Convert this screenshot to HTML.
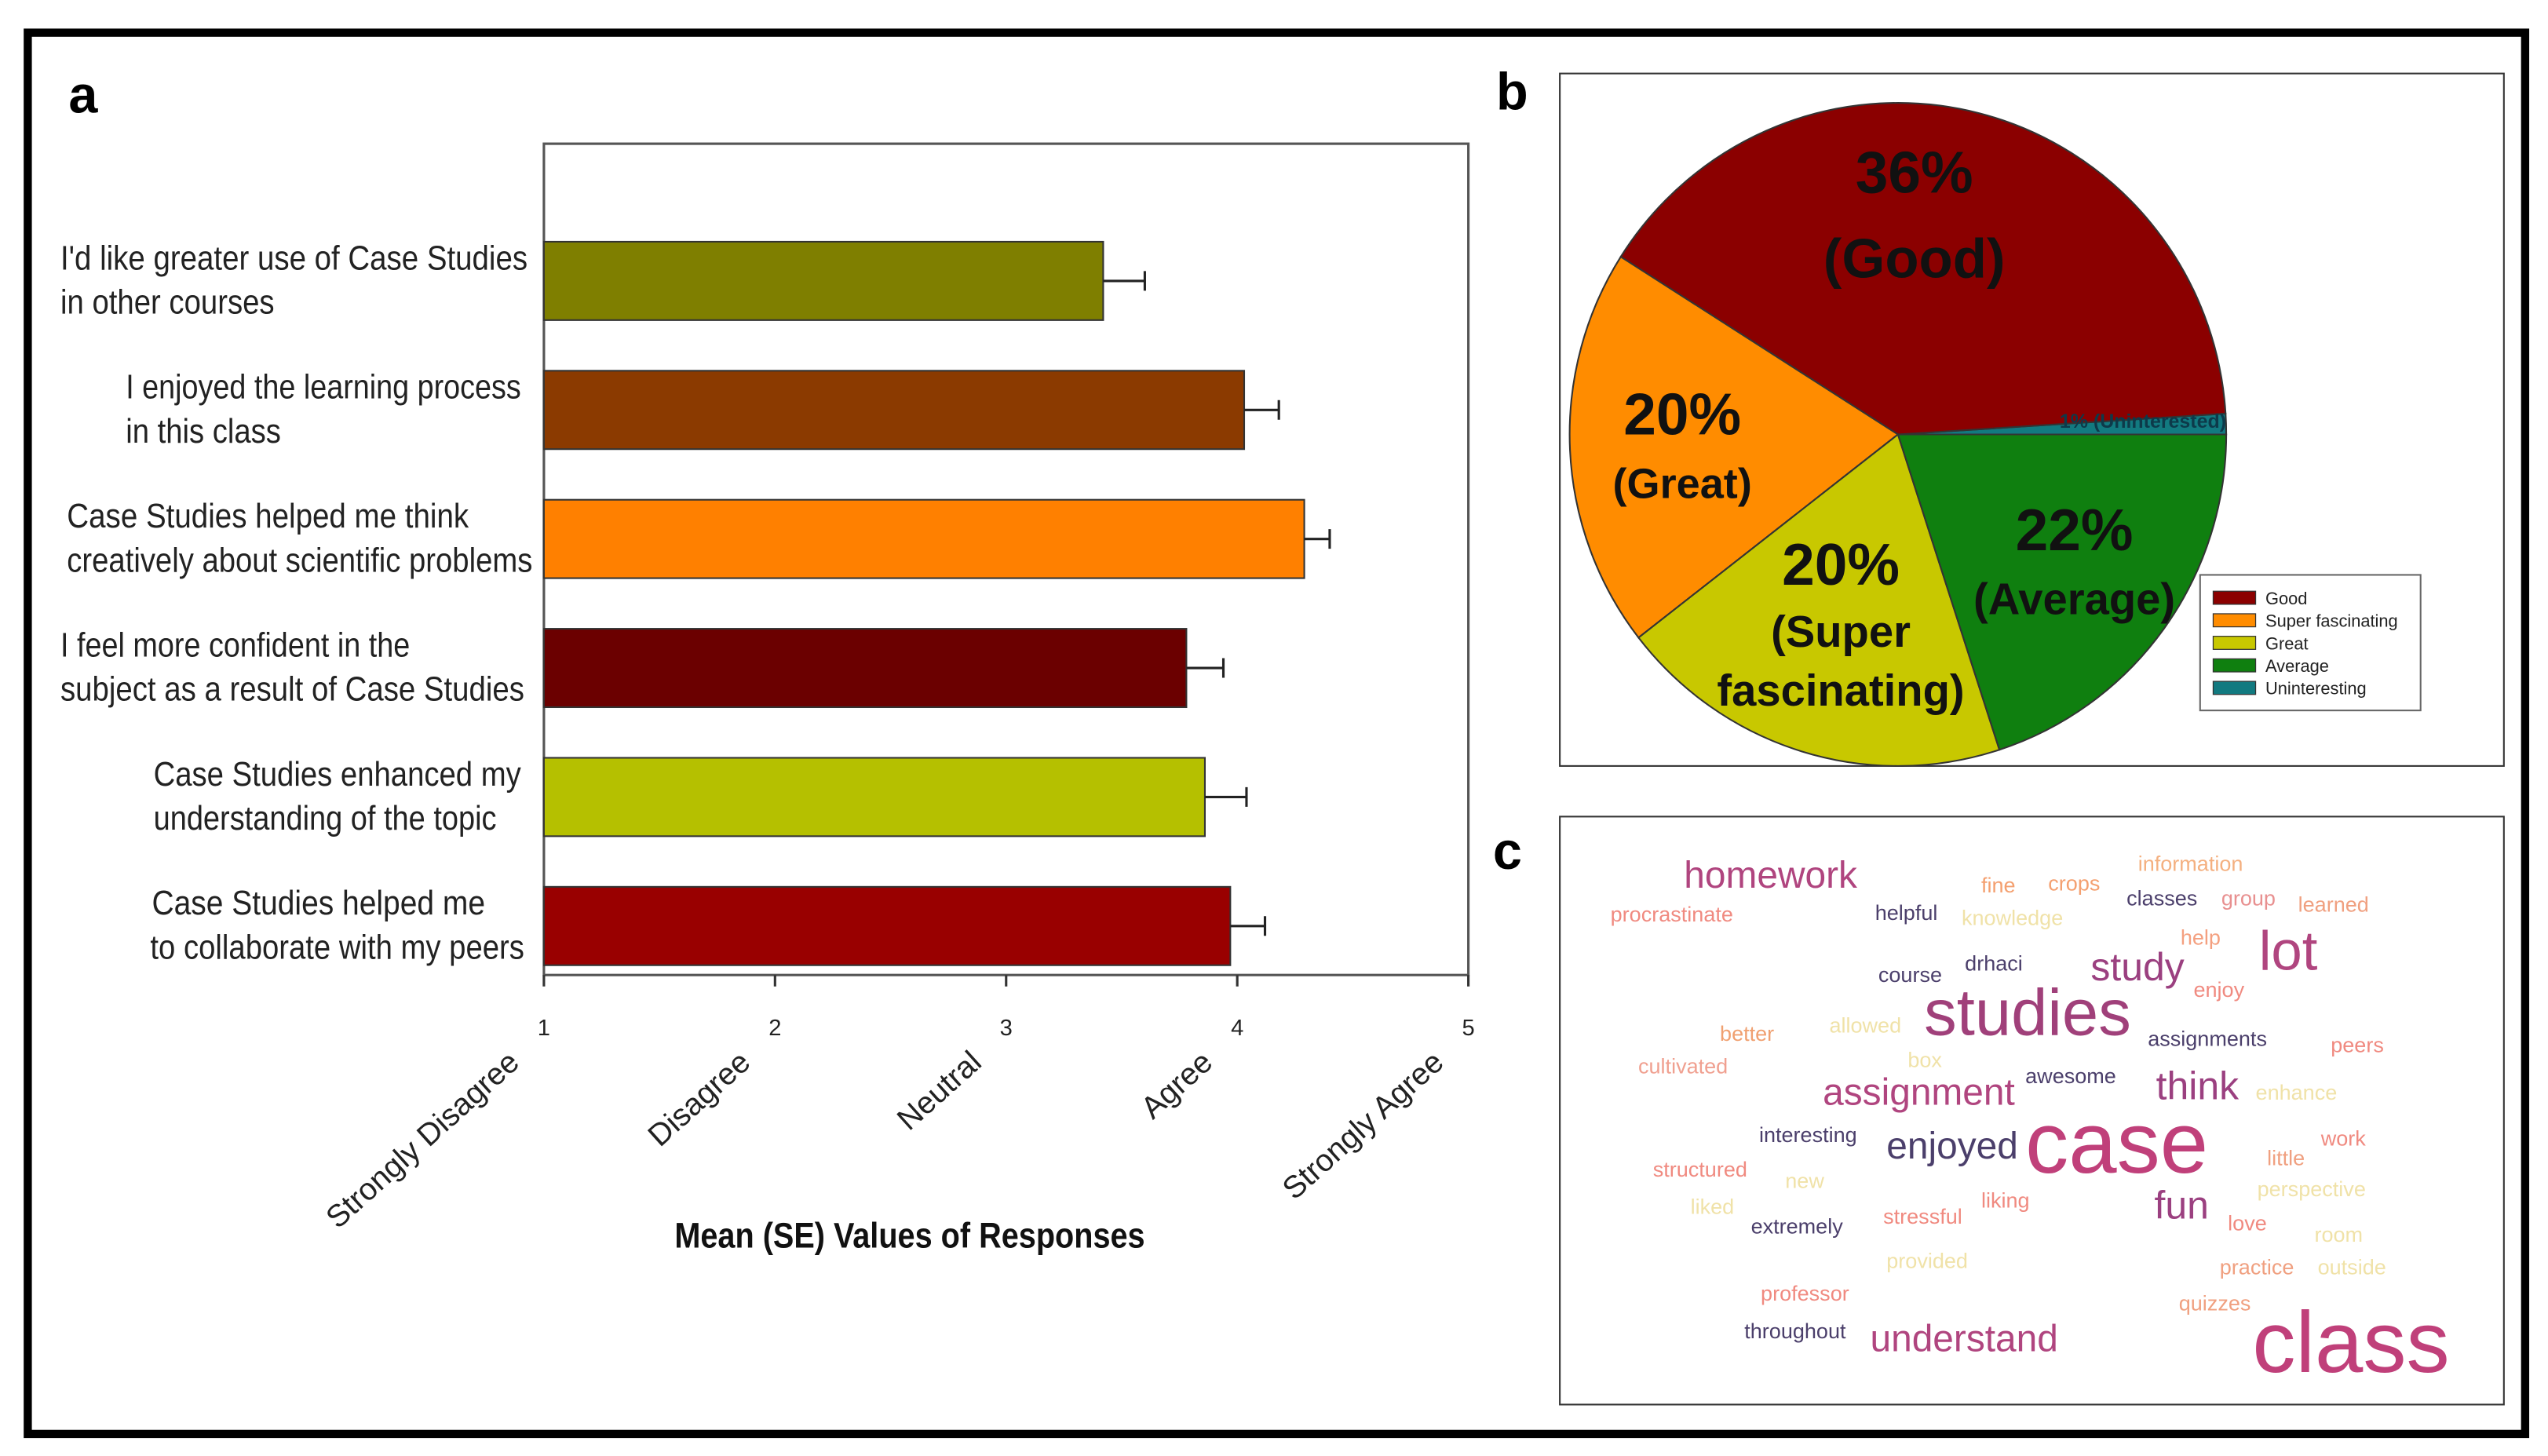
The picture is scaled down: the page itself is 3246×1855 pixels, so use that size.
<!DOCTYPE html>
<html><head><meta charset="utf-8"><style>
html,body{margin:0;padding:0;background:#fff;}
svg{display:block;font-family:"Liberation Sans",sans-serif;}
</style></head><body>
<svg id="fig" width="3246" height="1855" viewBox="0 0 1560 891.5" xmlns="http://www.w3.org/2000/svg">
<rect x="17" y="20" width="1529" height="858" fill="#fff" stroke="#000" stroke-width="5"/>
<text x="42" y="69" font-size="32" font-weight="bold">a</text>
<text x="916" y="67" font-size="32" font-weight="bold">b</text>
<text x="914" y="532" font-size="32" font-weight="bold">c</text>
<g id="chartA"></g>
<rect x="955" y="45" width="578" height="424" fill="#fff" stroke="#333" stroke-width="1"/>
<g id="chartB"></g>
<rect x="955" y="500" width="578" height="360" fill="#fff" stroke="#333" stroke-width="1"/>
<g id="chartC"></g>
</svg>
<script>
const NS="http://www.w3.org/2000/svg";
// ---- Panel a data ----
const barCategories=[["I'd like greater use of Case Studies","in other courses"],["I enjoyed the learning process","in this class"],["Case Studies helped me think","creatively about scientific problems"],["I feel more confident in the","subject as a result of Case Studies"],["Case Studies enhanced my","understanding of the topic"],["Case Studies helped me","to collaborate with my peers"]];
const barMeans=[3.42,4.03,4.29,3.78,3.86,3.97];
const barSE=[0.18,0.15,0.11,0.16,0.18,0.15];
const barColors=["#7f7f00","#8b3a00","#ff8000","#6b0000","#b5c000","#990000"];
const xTicks=[1,2,3,4,5];
const xTickNames=["Strongly Disagree","Disagree","Neutral","Agree","Strongly Agree"];
// ---- Panel b data ----
const pieNames=["Uninteresting","Good","Great","Super fascinating","Average"];
const pieShares=[1,40,19.5,19.5,20];
const pieColors=["#127a80","#8b0000","#ff8c00","#c8c800","#0f7f0f"];
const legendNames=["Good","Super fascinating","Great","Average","Uninteresting"];
const legendColors=["#8b0000","#ff8c00","#c8c800","#0f7f0f","#127a80"];
// ---- Panel c data ----
const cloudWords=["homework","procrastinate","helpful","fine","crops","knowledge","information","classes","group","learned","help","lot","course","drhaci","study","enjoy","studies","better","allowed","assignments","peers","box","cultivated","awesome","assignment","think","enhance","interesting","enjoyed","case","work","little","structured","new","liking","perspective","liked","extremely","stressful","fun","love","room","provided","practice","outside","professor","quizzes","throughout","understand","class"];
const cloudSizes=[23,13,13,13,13,13,13,13,13,13,13,34,13,13,24,13,40,13,13,13,13,13,13,13,23,24,13,13,23,53,13,13,13,13,13,13,13,13,13,24,13,13,13,13,13,13,13,13,23,53];

function el(tag,attrs,parent,txt){const e=document.createElementNS(NS,tag);for(const k in attrs)e.setAttribute(k,attrs[k]);if(txt!==undefined)e.textContent=txt;parent.appendChild(e);return e;}

// ---- Bar chart ----
(function(){
const g=document.getElementById('chartA');
const x0=333,x1=899,yTop=88,yBot=597;
const xs=v=>x0+(v-1)*(x1-x0)/4;
const yc=i=>172+i*79;
const bh=48;
const frame=el('rect',{x:x0,y:yTop,width:x1-x0,height:yBot-yTop,fill:'#fff',stroke:'#555','stroke-width':1.5},g);


const labelBox=[[37,323,37,168],[77,319,77,172],[41,287,41,326],[37,251,37,321],[94,319,94,304],[93,297,92,321]];
barCategories.forEach((c,i)=>{
  const b=el('rect',{x:xs(1),y:yc(i)-bh/2,width:xs(barMeans[i])-xs(1),height:bh,fill:barColors[i],stroke:'#333','stroke-width':1},g);
  
  
  const xe=xs(barMeans[i]),xe2=xs(barMeans[i]+barSE[i]);
  const eb=el('path',{d:`M${xe},${yc(i)}H${xe2}M${xe2},${yc(i)-6}V${yc(i)+6}`,stroke:'#222','stroke-width':1.5,fill:'none'},g);
  
  
  const lb=labelBox[i];
  const t1=el('text',{x:lb[0],y:yc(i)-14+7,'font-size':21,textLength:lb[1]-lb[0],lengthAdjust:'spacingAndGlyphs',fill:'#222'},g,c[0]);
  
  
  const t2=el('text',{x:lb[2],y:yc(i)+13+7,'font-size':21,textLength:lb[3]-lb[2],lengthAdjust:'spacingAndGlyphs',fill:'#222'},g,c[1]);
  
  
});
xTicks.forEach((v,i)=>{
  const tk=el('line',{x1:xs(v),x2:xs(v),y1:yBot,y2:yBot+7,stroke:'#333','stroke-width':1.5},g);
  
  
  const tn=el('text',{x:xs(v),y:634,'font-size':14,'text-anchor':'middle',fill:'#222'},g,String(v));
  
  
  const tl=el('text',{x:xs(v)-14,y:652,'font-size':19,'text-anchor':'end',fill:'#222',transform:`rotate(-42 ${xs(v)-14} 652)`},g,xTickNames[i]);
  
  
});
const at=el('text',{x:557,y:764,'font-size':22,'font-weight':'bold','text-anchor':'middle',textLength:288,lengthAdjust:'spacingAndGlyphs',fill:'#111'},g,'Mean (SE) Values of Responses');


})();

// ---- Pie chart ----
(function(){
const g=document.getElementById('chartB');
const cx=1162,cy=266,rx=201,ry=203;
const total=pieShares.reduce((a,b)=>a+b,0);
let a0=0;
pieShares.forEach((v,i)=>{
  const a1=a0+v/total*2*Math.PI;
  const p0=[cx+rx*Math.cos(a0),cy-ry*Math.sin(a0)],p1=[cx+rx*Math.cos(a1),cy-ry*Math.sin(a1)];
  const large=(a1-a0)>Math.PI?1:0;
  const s=el('path',{d:`M${cx},${cy}L${p0[0]},${p0[1]}A${rx},${ry} 0 ${large} 0 ${p1[0]},${p1[1]}Z`,fill:pieColors[i],stroke:'#333','stroke-width':1},g);
  
  
  a0=a1;
});
const labels=[["36%",1172,118,36],["(Good)",1172,170,34],["20%",1030,266,36],["(Great)",1030,305,26],["20%",1127,358,36],["(Super",1127,396,27],["fascinating)",1127,432,27],["22%",1270,337,36],["(Average)",1270,376,27]];
labels.forEach(l=>{
  const t=el('text',{x:l[1],y:l[2],'font-size':l[3],'font-weight':'bold','text-anchor':'middle',fill:'#111'},g,l[0]);
  
  
});
const tu=el('text',{x:1312,y:262,'font-size':12,'font-weight':'bold','text-anchor':'middle',fill:'#0d3a4a'},g,'1% (Uninterested)');


const lg=el('g',{},g);


el('rect',{x:1347,y:352,width:135,height:83,fill:'#fff',stroke:'#666','stroke-width':1},lg);
legendNames.forEach((n,i)=>{
  const y=366+i*13.8;
  const sw=el('rect',{x:1355,y:y-4,width:26,height:8,fill:legendColors[i],stroke:'#333','stroke-width':0.6},lg);
  
  
  const t=el('text',{x:1387,y:y+4,'font-size':10.5,fill:'#222'},lg,n);
  
  
});
})();

// ---- Word cloud ----
const cloudPos=[[1031,536],[986,560],[1148,559],[1213,542],[1254,541],[1201,562],[1309,529],[1302,550],[1360,550],[1407,554],[1335,574],[1383,582],[1150,597],[1203,590],[1280,592],[1343,606],[1178,620],[1053,633],[1120,628],[1315,636],[1427,640],[1168,649],[1003,653],[1240,659],[1116,669],[1320,665],[1381,669],[1077,695],[1155,702],[1240,700],[1421,697],[1388,709],[1012,716],[1093,723],[1213,735],[1382,728],[1035,739],[1072,751],[1153,745],[1319,738],[1364,749],[1417,756],[1155,772],[1359,776],[1419,776],[1078,792],[1334,798],[1068,815],[1145,820],[1379,822]];
const cloudColor=["#b0457f","#f08a80","#4b3f6b","#f4a070","#f4a070","#f0e2a8","#f4b080","#4b3f6b","#e89090","#f0a080","#f4a080","#b0457f","#4b3f6b","#4b3f6b","#9b4080","#f08a80","#a0407a","#f0a070","#f0e2a8","#4b3f6b","#f08a80","#f0e2a8","#f0a090","#4b3f6b","#b0457f","#9b4080","#f0e2a8","#4b3f6b","#4b3f6b","#c0407a","#f08a80","#f0a080","#f08a80","#f0e2a8","#f08a80","#f0e2a8","#f0e2a8","#4b3f6b","#f08a80","#9b4080","#f08a80","#f0e2a8","#f0e2a8","#f0a080","#f0e2a8","#f08a80","#f0a080","#4b3f6b","#b0457f","#c0407a"];
(function(){
const g=document.getElementById('chartC');
cloudWords.forEach((w,i)=>{
  const t=el('text',{x:cloudPos[i][0],y:cloudPos[i][1],'font-size':cloudSizes[i],'dominant-baseline':'central',fill:cloudColor[i],'font-family':'"Liberation Sans",sans-serif'},g,w);
  
  
});
})();
</script>
</body></html>
